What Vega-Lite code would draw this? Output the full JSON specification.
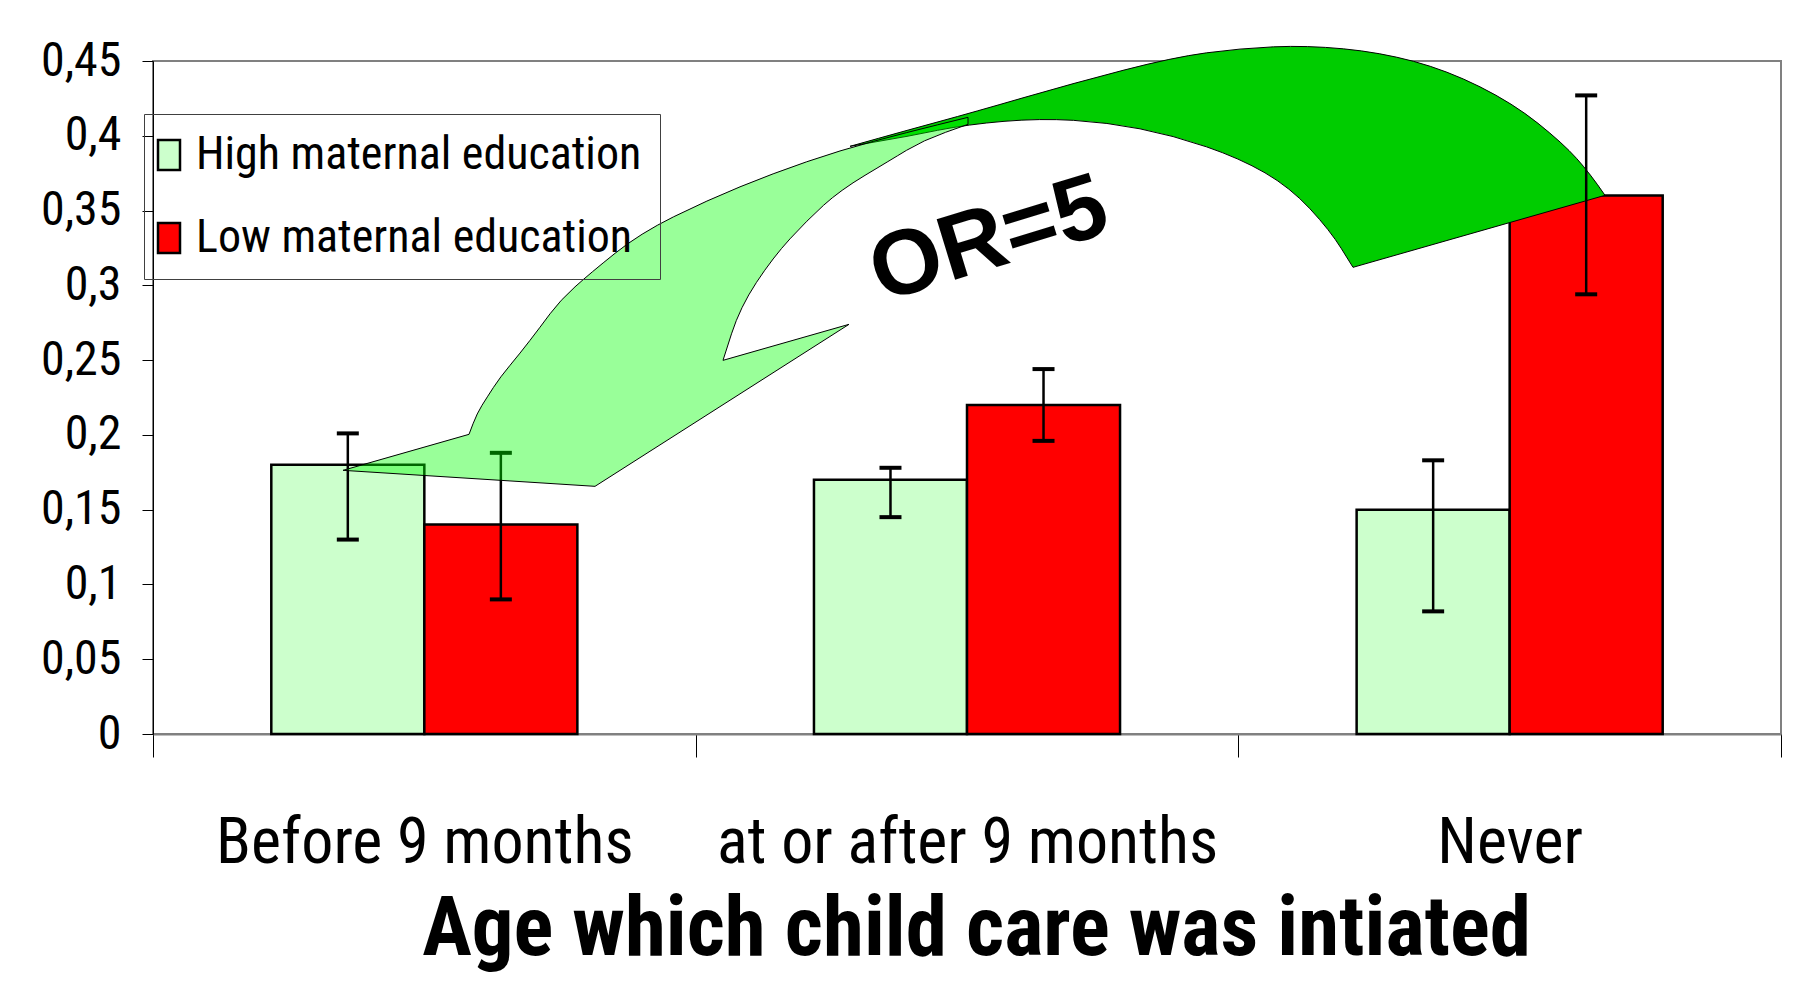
{
  "$schema": "https://vega.github.io/schema/vega-lite/v6.json",
  "width": 1628,
  "height": 673,
  "autosize": {"type": "none"},
  "padding": {"left": 153, "top": 61, "right": 22, "bottom": 272},
  "background": "white",
  "config": {"view": {"stroke": "#808080", "strokeWidth": 2}},
  "data": {"values": [
    {"cat": "Before 9 months", "group": "High maternal education", "value": 0.18, "lower": 0.13, "upper": 0.201},
    {"cat": "Before 9 months", "group": "Low maternal education", "value": 0.14, "lower": 0.09, "upper": 0.188},
    {"cat": "at or after 9 months", "group": "High maternal education", "value": 0.17, "lower": 0.145, "upper": 0.178},
    {"cat": "at or after 9 months", "group": "Low maternal education", "value": 0.22, "lower": 0.196, "upper": 0.244},
    {"cat": "Never", "group": "High maternal education", "value": 0.15, "lower": 0.082, "upper": 0.183},
    {"cat": "Never", "group": "Low maternal education", "value": 0.36, "lower": 0.294, "upper": 0.427}
  ]},
  "layer": [
    {
      "mark": {"type": "bar", "stroke": "black", "strokeWidth": 2.5},
      "encoding": {
        "x": {
          "field": "cat", "type": "nominal",
          "sort": ["Before 9 months", "at or after 9 months", "Never"],
          "scale": {"paddingInner": 0, "paddingOuter": 0},
          "axis": {
            "title": "Age which child care was intiated",
            "titleFont": "Roboto Condensed",
            "titleFontSize": 83, "titleFontWeight": "bold", "titleColor": "black",
            "titleX": 823, "titleY": 220, "titleBaseline": "alphabetic", "titleAlign": "center",
            "labelFont": "Roboto Condensed",
            "labelFontSize": 64, "labelColor": "black", "labelPadding": 54, "labelAngle": 0, "labelLimit": 700,
            "tickBand": "extent", "tickSize": 23, "tickColor": "black", "tickWidth": 1,
            "domainColor": "#808080", "domainWidth": 2
          }
        },
        "xOffset": {
          "field": "group", "type": "nominal",
          "scale": {"paddingInner": 0, "paddingOuter": 0.773}
        },
        "y": {
          "field": "value", "type": "quantitative",
          "scale": {"domain": [0, 0.45], "nice": false, "zero": true},
          "axis": {
            "title": null,
            "values": [0, 0.05, 0.1, 0.15, 0.2, 0.25, 0.3, 0.35, 0.4, 0.45],
            "labelExpr": "replace(format(datum.value, '~g'), '.', ',')",
            "labelFont": "Roboto Condensed",
            "labelFontSize": 48, "labelColor": "black", "labelPadding": 21,
            "tickSize": 11, "tickColor": "black", "tickWidth": 1,
            "domainColor": "black", "domainWidth": 1, "grid": false
          }
        },
        "color": {
          "field": "group", "type": "nominal",
          "scale": {"domain": ["High maternal education", "Low maternal education"], "range": ["#CCFFCC", "#FF0000"]},
          "legend": {
            "title": null, "orient": "none", "legendX": -9, "legendY": 53,
            "padding": 18, "rowPadding": 37,
            "strokeColor": "#404040", "fillColor": null,
            "labelFont": "Roboto Condensed",
            "labelFontSize": 46, "labelColor": "black", "labelLimit": 700, "labelOffset": 4,
            "symbolOffset": -16,
            "symbolType": "M-1,-1.36H1V1.36H-1Z", "symbolSize": 484,
            "symbolStrokeColor": "black", "symbolStrokeWidth": 2.5, "symbolOpacity": 1
          }
        }
      }
    },
    {
      "data": {"values": [{"cat": "at or after 9 months", "value": 0.3}]},
      "mark": {
        "type": "point", "filled": true, "size": 4, "opacity": 1,
        "shape": "M-117,-139L-88.5,-147Q-60,-155 -27,-164Q6,-173 56,-187.5Q106,-202 156,-215Q206,-228 239.5,-232.5Q273,-237 306.5,-238.5Q340,-240 376.5,-236.5Q413,-233 446.5,-224Q480,-215 513,-198.5Q546,-182 571,-162Q596,-142 609.5,-127Q623,-112 638,-90L386,-18L374.5,-36.5Q363,-55 343,-76.5Q323,-98 298,-112.5Q273,-127 239.5,-138.5Q206,-150 173,-156.5Q140,-163 106.5,-165Q73,-167 37,-164Q1,-161 -29.5,-155L-60,-149Z",
        "fill": "#00CC00", "stroke": "black", "strokeWidth": 1
      },
      "encoding": {
        "x": {"field": "cat", "type": "nominal", "sort": ["Before 9 months", "at or after 9 months", "Never"]},
        "y": {"field": "value", "type": "quantitative"}
      }
    },
    {
      "mark": {"type": "rule", "stroke": "black", "strokeWidth": 2.5},
      "encoding": {
        "x": {"field": "cat", "type": "nominal", "sort": ["Before 9 months", "at or after 9 months", "Never"]},
        "xOffset": {"field": "group", "type": "nominal"},
        "y": {"field": "lower", "type": "quantitative"},
        "y2": {"field": "upper"}
      }
    },
    {
      "transform": [{"fold": ["lower", "upper"], "as": ["end", "endValue"]}],
      "mark": {"type": "tick", "orient": "horizontal", "size": 22, "thickness": 4, "color": "black", "opacity": 1},
      "encoding": {
        "x": {"field": "cat", "type": "nominal", "sort": ["Before 9 months", "at or after 9 months", "Never"]},
        "xOffset": {"field": "group", "type": "nominal"},
        "y": {"field": "endValue", "type": "quantitative"}
      }
    },
    {
      "data": {"values": [{"cat": "at or after 9 months", "value": 0.3}]},
      "mark": {
        "type": "point", "filled": true, "size": 4, "opacity": 1,
        "shape": "M-624,185L-498,149L-494,138.5Q-490,128 -485,120Q-480,112 -473.5,102Q-467,92 -457,80Q-447,68 -437,55Q-427,42 -417,28.5Q-407,15 -392,1.5Q-377,-12 -352,-32Q-327,-52 -293.5,-68.5Q-260,-85 -227,-98.5Q-194,-112 -160.5,-123.5Q-127,-135 -93.5,-144Q-60,-153 -29.5,-160.5L1,-168L1,-161L-21.5,-153Q-44,-145 -60.5,-135Q-77,-125 -102,-110Q-127,-95 -143.5,-80Q-160,-65 -177,-46.5Q-194,-28 -210.5,-3Q-227,22 -235.5,48.5L-244,75L-118,39L-372,201Z",
        "fill": "#00FF00", "fillOpacity": 0.4, "stroke": "black", "strokeWidth": 1, "strokeOpacity": 1
      },
      "encoding": {
        "x": {"field": "cat", "type": "nominal", "sort": ["Before 9 months", "at or after 9 months", "Never"]},
        "y": {"field": "value", "type": "quantitative"}
      }
    },
    {
      "data": {"values": [{"cat": "at or after 9 months", "value": 0.33, "label": "OR=5"}]},
      "mark": {
        "type": "text", "angle": 343, "fontSize": 92, "fontWeight": "bold",
        "font": "Liberation Sans, Arial, sans-serif", "color": "black",
        "align": "center", "baseline": "middle", "dx": 21, "dy": 6
      },
      "encoding": {
        "x": {"field": "cat", "type": "nominal", "sort": ["Before 9 months", "at or after 9 months", "Never"]},
        "y": {"field": "value", "type": "quantitative"},
        "text": {"field": "label"}
      }
    }
  ]
}
